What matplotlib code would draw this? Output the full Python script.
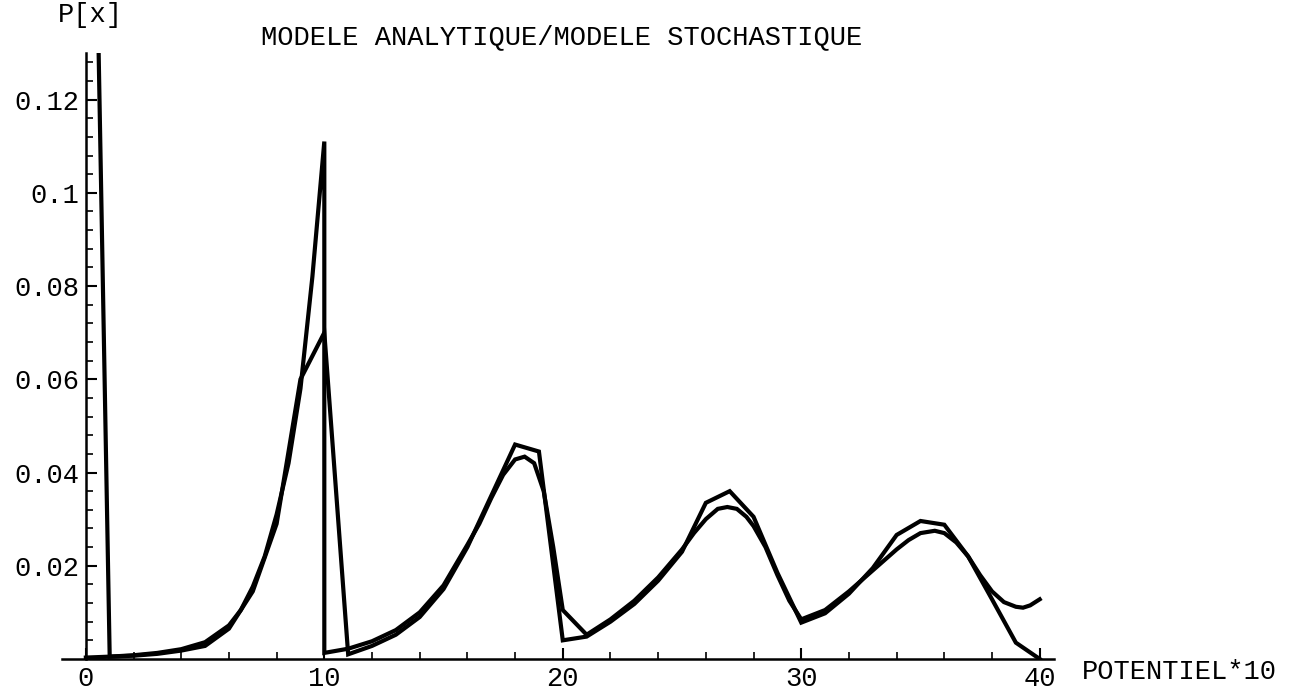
import matplotlib
matplotlib.use("Agg")
import matplotlib.pyplot as plt
import numpy as np

# modele analytique (courbe lisse, discontinue en 10)
ana_x = [0, 1, 2, 3, 4, 5, 6, 6.5, 7, 7.5, 8, 8.5, 9, 9.5, 10,
         10, 11, 12, 13, 14, 15, 16, 16.5, 17, 17.5, 18, 18.4, 18.8, 19.2, 19.6, 20,
         21, 22, 23, 24, 25, 25.5, 26, 26.5, 26.9, 27.3, 27.7, 28, 28.5, 29, 29.5, 30,
         31, 32, 33, 34, 34.5, 35, 35.6, 36, 36.5, 37, 37.5, 38, 38.5, 39, 39.3, 39.6, 40]
ana_y = [0.0003, 0.0005, 0.0008, 0.0013, 0.0021, 0.0036, 0.0072, 0.0105, 0.0155, 0.022, 0.031, 0.042, 0.058, 0.082, 0.111,
         0.0013, 0.0022, 0.0038, 0.0062, 0.0100, 0.0158, 0.0245, 0.029, 0.0345, 0.0395, 0.0428, 0.0434, 0.042, 0.036, 0.024, 0.0105,
         0.0052, 0.0085, 0.0125, 0.0175, 0.0235, 0.027, 0.030, 0.0322, 0.0326, 0.0322, 0.0305, 0.0285, 0.024, 0.018, 0.0125, 0.0085,
         0.0105, 0.0145, 0.019, 0.0235, 0.0255, 0.027, 0.0275, 0.027, 0.025, 0.022, 0.018, 0.0145, 0.0122, 0.0112, 0.011, 0.0115, 0.0128]

# modele stochastique (points entiers)
sto_x = list(range(0, 41))
sto_y = [0.28, 0.0005, 0.0007, 0.0011, 0.0018, 0.0028, 0.0065, 0.0145, 0.029, 0.060,
         0.070, 0.001, 0.0028, 0.0052, 0.009, 0.015, 0.024, 0.035, 0.046, 0.0445,
         0.004, 0.0048, 0.008, 0.0118, 0.0168, 0.023, 0.0335, 0.036, 0.0305, 0.0185,
         0.0078, 0.0098, 0.014, 0.0195, 0.0266, 0.0296, 0.0288, 0.022, 0.0128, 0.0035,
         0.0]

xticks = [0, 10, 20, 30, 40]
xtick_labels = ['0', '10', '20', '30', '40']
yticks = [0.02, 0.04, 0.06, 0.08, 0.1, 0.12]
ytick_labels = ['0.02', '0.04', '0.06', '0.08', '0.1', '0.12']

font = 'Liberation Mono'
fs = 19.5

fig = plt.figure(figsize=(12.89, 6.96), dpi=100)
ax = fig.add_axes([0.0481, 0.0532, 0.7696, 0.8707])

ax.plot(ana_x, ana_y, color='black', lw=3.0, solid_joinstyle='miter')
ax.plot(sto_x, sto_y, color='black', lw=3.0, solid_joinstyle='miter')

ax.set_xlim(-1.0, 40.6)
ax.set_ylim(0, 0.13)

ax.spines['left'].set_position(('data', 0))
ax.spines['bottom'].set_position(('data', 0))
ax.spines['right'].set_visible(False)
ax.spines['top'].set_visible(False)
ax.spines['left'].set_linewidth(1.8)
ax.spines['bottom'].set_linewidth(1.8)

ax.set_xticks(xticks)
ax.set_xticklabels(xtick_labels, fontfamily=font, fontsize=fs)
ax.set_yticks(yticks)
ax.set_yticklabels(ytick_labels, fontfamily=font, fontsize=fs)
ax.set_xticks(np.arange(2, 41, 2), minor=True)
ax.set_yticks(np.arange(0.004, 0.13, 0.004), minor=True)
ax.tick_params(axis='both', which='major', direction='in', length=8, width=1.5, pad=5)
ax.tick_params(axis='both', which='minor', direction='in', length=5, width=1.2)

fig.text(0.436, 0.947, 'MODELE ANALYTIQUE/MODELE STOCHASTIQUE', ha='center', va='center',
         fontfamily=font, fontsize=fs)
fig.text(0.0698, 0.978, 'P[x]', ha='center', va='center', fontfamily=font, fontsize=fs)
fig.text(0.839, 0.0345, 'POTENTIEL*10', ha='left', va='center', fontfamily=font, fontsize=fs)

fig.savefig('out.png', dpi=100)
